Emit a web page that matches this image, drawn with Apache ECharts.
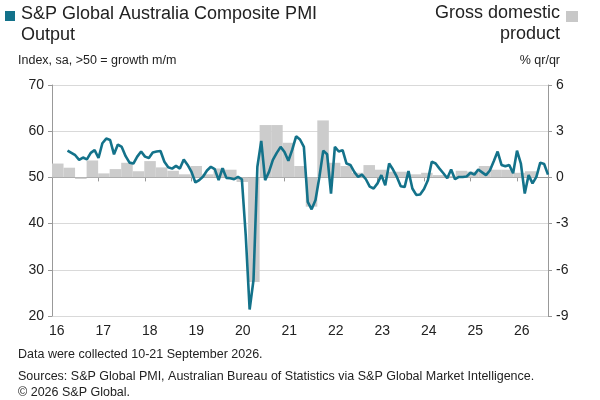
<!DOCTYPE html>
<html><head><meta charset="utf-8">
<script src="https://cdn.jsdelivr.net/npm/echarts@6/dist/echarts.min.js"></script>
<style>html,body{margin:0;padding:0;background:#fff}#c{width:600px;height:400px}</style>
</head><body><div id="c"></div>
<script>
// Monthly PMI, Jan 2016 .. Sep 2026 (first months not shown)
const pmiStartMonth = 4;
const pmiValues = [55.8,55.3,54.8,53.8,54.3,53.9,55.3,55.9,54.2,57.4,58.4,58.1,55,57.1,56.6,54.6,53.2,53,54.5,55.6,54.5,54.2,55.4,55.6,55.7,53.4,52.2,51.9,52.5,51.9,53.9,52.7,51.2,48.9,49.4,50.2,51.5,52.3,51.8,49.4,52,49.9,49.8,49.6,50.1,49.6,37.4,21.4,27.8,52.3,57.9,49.4,51.2,53.8,55.3,56.6,55.5,53.6,56,58.9,58.2,56.6,44.7,43.1,45.1,50.1,55.8,55,46.5,56.6,55.6,55.9,53,52.7,51.2,50.1,50.6,49.6,48,47.6,48.7,50.5,48.3,53,51.7,50.1,48.1,47.9,51.4,47.6,46.2,46.3,47.5,49.4,53.4,53,51.9,50.9,49.8,51.7,49.6,50.1,50.1,50.2,51,50.6,51.7,51.1,50.5,51.5,53.5,55.6,52.7,52.4,52.7,50.9,55.8,53,46.5,50.5,48.7,50.1,53.2,52.9,50.6];
// Quarterly GDP % q/q, 2016Q1 .. 2026Q3
const gdpValues = [0.9,0.63,-0.1,1.1,0.26,0.54,0.95,0.4,1.06,0.65,0.43,0.2,0.74,0.2,0.58,0.5,-0.3,-6.8,3.4,3.4,2.25,0.74,-1.9,3.7,0.95,0.74,0.3,0.8,0.5,0.37,0.37,0.2,0.3,0.15,0.1,0.43,0.37,0.74,0.5,0.5,0.3,0.4,null];
const yearLabels = ['16','17','18','19','20','21','22','23','24','25','26'];

const months = [], pmi = [];
for (let i = 0; i < 129; i++) {
  months.push(i % 12 === 0 ? yearLabels[i/12] : '');
  pmi.push(i < pmiStartMonth ? null : pmiValues[i - pmiStartMonth]);
}
const quarters = gdpValues.map((v,i)=>'Q'+i);
const F = 'Liberation Sans, Arial';

const chart = echarts.init(document.getElementById('c'));
chart.setOption({
  animation:false,
  textStyle:{fontFamily:F},
  grid:{left:52,right:52,top:85,bottom:84},
  xAxis:[{
    type:'category', data:months, boundaryGap:false,
    axisLine:{lineStyle:{color:'#999'}},
    axisTick:{interval:(i)=>i%12===0, length:4, lineStyle:{color:'#999'}},
    axisLabel:{interval:(i)=>i%12===0, color:'#222', fontSize:14, align:'left', padding:[0,0,0,-3]},
    splitLine:{show:false}
  },{
    type:'category', data:quarters, show:false, boundaryGap:true
  }],
  yAxis:[{
    type:'value', min:20, max:70, interval:10,
    axisLine:{show:true,lineStyle:{color:'#999'}},
    axisTick:{show:true,length:4,lineStyle:{color:'#999'}},
    axisLabel:{color:'#222',fontSize:14},
    splitLine:{lineStyle:{color:'#d9d9d9'}}
  },{
    type:'value', min:-9, max:6, interval:3,
    axisLine:{show:true,lineStyle:{color:'#999'}},
    axisTick:{show:true,length:4,lineStyle:{color:'#999'}},
    axisLabel:{color:'#222',fontSize:14},
    splitLine:{show:false}
  }],
  series:[{
    type:'bar', xAxisIndex:1, yAxisIndex:1, data:gdpValues,
    barCategoryGap:'0%', itemStyle:{color:'#cccccc'}, z:1
  },{
    type:'line', data:pmi, symbol:'none', connectNulls:false,
    lineStyle:{color:'#13728a',width:2.6}, z:3
  }],
  graphic:[
    {type:'rect',left:5,top:11,shape:{width:10,height:10},style:{fill:'#13728a'}},
    {type:'text',left:21,top:4,style:{text:'S&P Global Australia Composite PMI\nOutput',fontSize:18,lineHeight:21,fill:'#222',fontFamily:F}},
    {type:'rect',left:566,top:11,shape:{width:12,height:11},style:{fill:'#c8c8c8'}},
    {type:'text',right:40,top:4,style:{text:'Gross domestic',fontSize:18,fill:'#222',fontFamily:F}},
    {type:'text',right:40,top:25,style:{text:'product',fontSize:18,fill:'#222',fontFamily:F}},
    {type:'text',left:18,top:54,style:{text:'Index, sa, >50 = growth m/m',fontSize:12.5,fill:'#222',fontFamily:F}},
    {type:'text',right:40,top:54,style:{text:'% qr/qr',fontSize:12.5,fill:'#222',fontFamily:F}},
    {type:'text',left:18,top:348,style:{text:'Data were collected 10-21 September 2026.',fontSize:12.5,fill:'#222',fontFamily:F}},
    {type:'text',left:18,top:370,style:{text:'Sources: S&P Global PMI, Australian Bureau of Statistics via S&P Global Market Intelligence.',fontSize:12.5,fill:'#222',fontFamily:F}},
    {type:'text',left:18,top:386,style:{text:'© 2026 S&P Global.',fontSize:12.5,fill:'#222',fontFamily:F}}
  ]
});
</script></body></html>
